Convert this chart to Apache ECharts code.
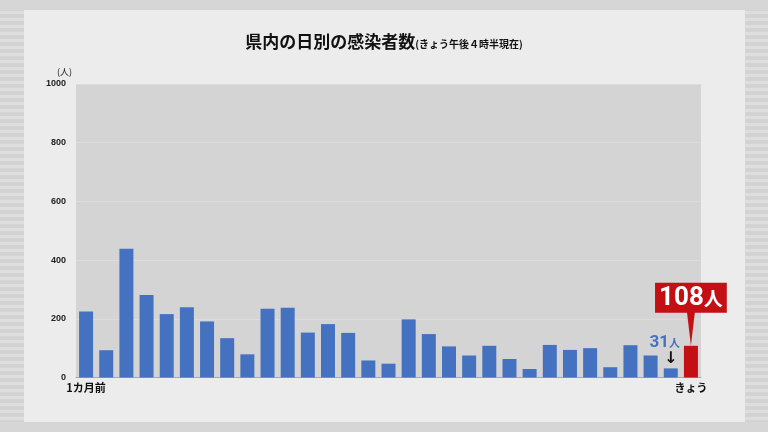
<!DOCTYPE html>
<html>
<head>
<meta charset="utf-8">
<script src="https://cdn.jsdelivr.net/npm/echarts@6/dist/echarts.min.js"></script>
<style>
  html, body { margin: 0; padding: 0; width: 768px; height: 432px; overflow: hidden; }
  body {
    background: repeating-linear-gradient(to bottom, #d3d3d3 0px, #d3d3d3 4px, #dedede 4px, #dedede 7px);
    position: relative;
  }
  #panel { position: absolute; left: 24px; top: 10px; width: 721px; height: 412px; background: #ececec; }
  #topband { position: absolute; left: 0; top: 0; width: 768px; height: 10px; background: #d6d6d6; }
  #botband { position: absolute; left: 0; top: 422px; width: 768px; height: 10px; background: #d6d6d6; }
  #chart { position: absolute; left: 0; top: 0; width: 768px; height: 432px; }
</style>
</head>
<body>
<div id="topband"></div>
<div id="botband"></div>
<div id="panel"></div>
<div id="chart"></div>
<script>
// ---- data ----
const categories = ['1カ月前','d2','d3','d4','d5','d6','d7','d8','d9','d10','d11','d12','d13','d14','d15','d16','d17','d18','d19','d20','d21','d22','d23','d24','d25','d26','d27','d28','d29','d30','きょう'];
const tickLabels = ['1カ月前','','','','','','','','','','','','','','','','','','','','','','','','','','','','','','きょう'];
const dailyCases = [225, 93, 439, 281, 216, 239, 191, 134, 79, 234, 238, 153, 182, 152, 58, 47, 198, 148, 106, 75, 108, 63, 29, 111, 94, 100, 35, 110, 75, 31, 108];
const yTicks = [0, 200, 400, 600, 800, 1000];
const titleMain = '県内の日別の感染者数';
const titleSub = '(きょう午後４時半現在)';
const unitName = '(人)';

const BLUE = '#4472c0';
const RED = '#c40f14';
const JP = '"Noto Sans CJK JP", "Noto Sans", sans-serif';
const lastIdx = dailyCases.length - 1;
const prevIdx = dailyCases.length - 2;

const barData = dailyCases.map((v, i) => {
  const item = { value: v };
  if (i === lastIdx) item.itemStyle = { color: RED };
  if (i === prevIdx) {
    item.label = {
      show: true,
      position: 'top',
      distance: 1,
      offset: [-6, 0],
      formatter: '{n|' + v + '}{u|人}\n{a|↓}',
      rich: {
        n: { fontSize: 17, fontWeight: 'bold', color: BLUE, fontFamily: 'Roboto, sans-serif', lineHeight: 16 },
        u: { fontSize: 11, fontWeight: 'bold', color: BLUE, fontFamily: JP, lineHeight: 16 },
        a: { fontSize: 16, fontWeight: 'bold', color: '#111', fontFamily: 'DejaVu Sans, sans-serif', lineHeight: 17, padding: [0, 0, 0, 12] }
      }
    };
  }
  return item;
});

const chart = echarts.init(document.getElementById('chart'), null, { renderer: 'canvas' });
chart.setOption({
  backgroundColor: 'transparent',
  animation: false,
  title: {
    text: '{m|' + titleMain + '}{s|' + titleSub + '}',
    left: 'center',
    top: 28,
    textStyle: {
      rich: {
        m: { fontSize: 17, fontWeight: 'bold', color: '#111', fontFamily: JP },
        s: { fontSize: 10, fontWeight: 'bold', color: '#111', fontFamily: JP, verticalAlign: 'bottom', padding: [0, 0, 1, 0] }
      }
    }
  },
  grid: { left: 76, right: 67, top: 84, bottom: 54.5, show: true, backgroundColor: '#d4d4d4', borderWidth: 0 },
  xAxis: {
    type: 'category',
    data: categories,
    axisTick: { show: false },
    axisLine: { show: true, lineStyle: { color: '#a8a8a8', width: 1 } },
    axisLabel: {
      interval: 0,
      margin: 5,
      fontSize: 11,
      fontWeight: 'bold',
      color: '#111',
      fontFamily: JP,
      formatter: (val, idx) => tickLabels[idx]
    }
  },
  yAxis: {
    type: 'value',
    min: yTicks[0],
    max: yTicks[yTicks.length - 1],
    interval: yTicks[1] - yTicks[0],
    name: unitName,
    nameLocation: 'end',
    nameGap: 8,
    nameTextStyle: { align: 'right', padding: [0, 4, 0, 0], fontSize: 9, color: '#222', fontFamily: JP },
    axisLine: { show: false },
    axisTick: { show: false },
    axisLabel: { margin: 10, fontSize: 9, fontWeight: 'bold', color: '#222', fontFamily: 'Liberation Sans, Arial, sans-serif', formatter: (v) => String(v) },
    splitLine: { show: true, lineStyle: { color: '#dcdcdc', width: 1 } }
  },
  series: [{
    type: 'bar',
    data: barData,
    barWidth: 14,
    itemStyle: { color: BLUE },
    markPoint: {
      silent: true,
      data: [{
        coord: [lastIdx, dailyCases[lastIdx]],
        symbol: 'path://M0,0 L8,0 L4,34 Z',
        symbolSize: [8, 34],
        symbolOffset: [0, '-50%'],
        itemStyle: { color: RED },
        label: {
          show: true,
          position: 'top',
          distance: -1,
          formatter: '{n|' + dailyCases[lastIdx] + '}{u|人}',
          backgroundColor: RED,
          padding: [1, 4, 0, 4],
          rich: {
            n: { fontSize: 26, fontWeight: 'bold', color: '#fff', fontFamily: 'Roboto, sans-serif', lineHeight: 29 },
            u: { fontSize: 19, fontWeight: 'bold', color: '#fff', fontFamily: JP, lineHeight: 29 }
          }
        }
      }]
    }
  }]
});
</script>
</body>
</html>
